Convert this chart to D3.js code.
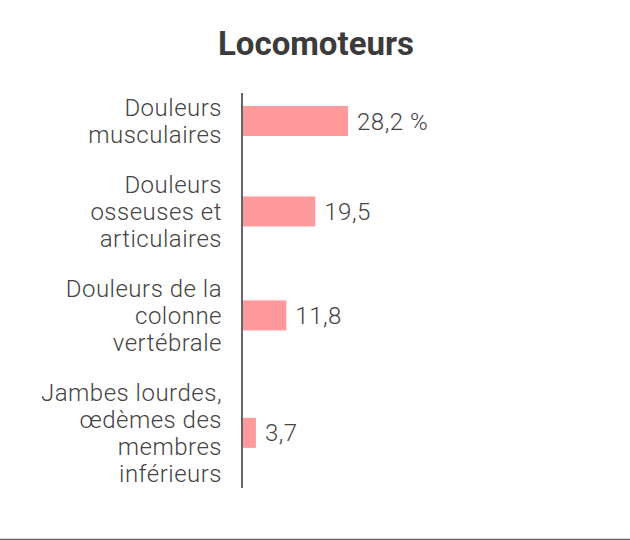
<!DOCTYPE html>
<html><head><meta charset="utf-8">
<script src="https://cdn.jsdelivr.net/npm/d3@7"></script>
<style>body{margin:0;background:#fff}svg{display:block}</style>
</head><body>
<script>
const title = "Locomoteurs";
const categories = [
  ["Douleurs", "musculaires"],
  ["Douleurs", "osseuses et", "articulaires"],
  ["Douleurs de la", "colonne", "vertébrale"],
  ["Jambes lourdes,", "œdèmes des", "membres", "inférieurs"]
];
const values = [28.2, 19.5, 11.8, 3.7];
const valueLabels = ["28,2 %", "19,5", "11,8", "3,7"];

const W = 630, H = 540;
const svg = d3.select("body").append("svg").attr("width", W).attr("height", H);
const font = "Roboto, 'Noto Sans', sans-serif";
const textColor = "#444";

svg.append("text").attr("x", 316).attr("y", 55).attr("text-anchor", "middle")
  .attr("font-family", font).attr("font-weight", 700).attr("font-size", 33)
  .attr("fill", "#3b3b3b").text(title);

const x0 = 242;
const x = d3.scaleLinear().domain([0, 28.2]).range([x0, 348]);

const gap = 0.85;
let acc = 0;
const starts = categories.map(c => { const s = acc; acc += c.length + gap; return s; });
const lh = 27;
const y = d3.scaleLinear().domain([0, 1]).range([94, 94 + lh]);

const g = svg.append("g");
categories.forEach((lines, i) => {
  const center = y(starts[i] + lines.length / 2);
  const t = g.append("text").attr("text-anchor", "end").attr("font-family", font)
    .attr("font-weight", 300).attr("font-size", 24).attr("letter-spacing", 0.5)
    .attr("fill", textColor);
  lines.forEach((ln, j) => {
    t.append("tspan").attr("x", 222)
      .attr("y", center + (j - (lines.length - 1) / 2) * lh + 8.5).text(ln);
  });
  g.append("rect").attr("x", x(0)).attr("y", center - 15)
    .attr("width", x(values[i]) - x(0)).attr("height", 30).attr("fill", "#fe9a9b");
  g.append("text").attr("x", x(values[i]) + 9).attr("y", center + 8.5)
    .attr("font-family", font).attr("font-weight", 300).attr("font-size", 24)
    .attr("letter-spacing", 0.5).attr("fill", textColor).text(valueLabels[i]);
});

svg.append("line").attr("x1", x0).attr("x2", x0).attr("y1", 93).attr("y2", 488)
  .attr("stroke", "#666").attr("stroke-width", 2);
svg.append("line").attr("x1", 0).attr("x2", W).attr("y1", 539.5).attr("y2", 539.5)
  .attr("stroke", "#666").attr("stroke-width", 1.5);
</script>
</body></html>
